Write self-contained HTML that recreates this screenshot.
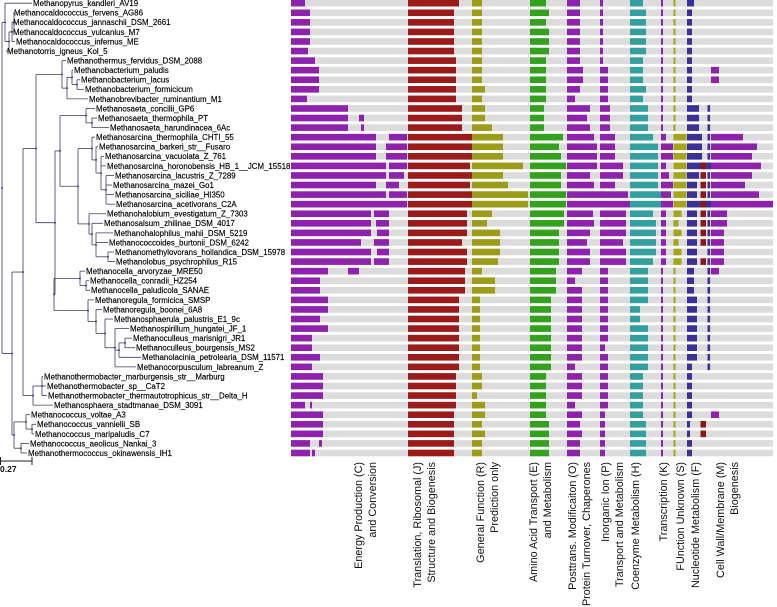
<!DOCTYPE html>
<html><head><meta charset="utf-8"><style>
html,body{margin:0;padding:0;background:#fff;}
svg{display:block;font-family:"Liberation Sans",sans-serif;}
</style></head><body>
<svg id="chart" width="777" height="607" viewBox="0 0 777 607" xmlns="http://www.w3.org/2000/svg">
<g id="tree"></g>
<g id="labels"></g>
<g id="bands"></g>
<g id="bars"></g>
<g id="xlabels"></g>
<g>
<line x1="0.5" y1="461" x2="32" y2="461" stroke="#222" stroke-width="1"/>
<line x1="0.5" y1="457" x2="0.5" y2="465" stroke="#222" stroke-width="1"/>
<line x1="32" y1="457" x2="32" y2="465" stroke="#222" stroke-width="1"/>
<text x="0" y="472" font-size="8.5" font-weight="bold" fill="#111">0.27</text>
</g>
</svg>
<script>
const taxa = ["Methanopyrus_kandleri_AV19","Methanocaldococcus_fervens_AG86","Methanocaldococcus_jannaschii_DSM_2661","Methanocaldococcus_vulcanius_M7","Methanocaldococcus_infernus_ME","Methanotorris_igneus_Kol_5","Methanothermus_fervidus_DSM_2088","Methanobacterium_paludis","Methanobacterium_lacus","Methanobacterium_formicicum","Methanobrevibacter_ruminantium_M1","Methanosaeta_concilii_GP6","Methanosaeta_thermophila_PT","Methanosaeta_harundinacea_6Ac","Methanosarcina_thermophila_CHTI_55","Methanosarcina_barkeri_str__Fusaro","Methanosarcina_vacuolata_Z_761","Methanosarcina_horonobensis_HB_1__JCM_15518","Methanosarcina_lacustris_Z_7289","Methanosarcina_mazei_Go1","Methanosarcina_siciliae_HI350","Methanosarcina_acetivorans_C2A","Methanohalobium_evestigatum_Z_7303","Methanosalsum_zhilinae_DSM_4017","Methanohalophilus_mahii_DSM_5219","Methanococcoides_burtonii_DSM_6242","Methanomethylovorans_hollandica_DSM_15978","Methanolobus_psychrophilus_R15","Methanocella_arvoryzae_MRE50","Methanocella_conradii_HZ254","Methanocella_paludicola_SANAE","Methanoregula_formicica_SMSP","Methanoregula_boonei_6A8","Methanosphaerula_palustris_E1_9c","Methanospirillum_hungatei_JF_1","Methanoculleus_marisnigri_JR1","Methanoculleus_bourgensis_MS2","Methanolacinia_petrolearia_DSM_11571","Methanocorpusculum_labreanum_Z","Methanothermobacter_marburgensis_str__Marburg","Methanothermobacter_sp__CaT2","Methanothermobacter_thermautotrophicus_str__Delta_H","Methanosphaera_stadtmanae_DSM_3091","Methanococcus_voltae_A3","Methanococcus_vannielii_SB","Methanococcus_maripaludis_C7","Methanococcus_aeolicus_Nankai_3","Methanothermococcus_okinawensis_IH1"];
const tipX = [33,14,13,13,16,7,67,74,81,85,89,96,98,110,96,99,105,107,115,113,115,116,107,104,114,109,115,116,86,90,91,95,103,114,130,133,136,142,137,44,47,48,54,31,37,35,30,28];
const energy = [14,19,19,19,19,17,24,28,28,28,16,57,57,57,85,85,85,95,95,85,95,116,80,80,80,70,80,80,37,29,29,37,37,29,37,21,21,29,21,32,32,32,14,32,32,32,19,19];
const energy2 = [null,null,null,null,null,null,null,null,null,null,null,null,[68,73],[70,73],[98,116],[95,116],[95,116],[98,116],[98,113],[95,108],[98,116],null,[83,98],[85,98],[86,98],[83,98],[86,98],[83,98],[57,68],null,null,null,null,null,null,null,null,null,null,null,null,null,[19,21],null,null,null,[28,31],[21,24]];
const translation = [51,46,46,46,46,46,48,48,48,48,48,54,54,54,64,64,64,62,64,62,64,64,59,59,59,54,59,59,57,57,57,51,51,51,51,51,51,51,51,48,48,48,48,46,46,46,46,46];
const general = [10,10,10,10,10,10,10,10,10,13,10,13,13,20,31,31,31,51,31,36,56,56,20,15,28,28,28,26,10,23,23,8,8,8,8,8,8,8,8,10,10,5,13,13,10,13,10,10];
const amino = [16,19,16,19,19,19,16,16,16,16,16,14,14,14,33,29,31,36,31,31,36,36,34,34,29,29,29,29,26,26,26,21,21,21,21,21,21,21,21,16,16,16,16,16,19,19,19,19];
const posttrans = [13,13,13,13,13,13,13,16,16,13,8,23,20,23,27,30,30,30,23,27,34,34,26,27,23,20,23,23,15,8,15,15,15,15,15,15,15,15,8,15,15,15,8,15,13,15,13,13];
const inorganic = [3,3,3,3,3,3,3,8,8,8,8,10,10,10,15,15,15,23,23,15,28,30,26,26,26,23,26,26,8,8,8,8,8,8,8,8,5,8,8,8,8,8,8,5,5,5,5,5];
const coenzyme = [13,16,16,16,16,16,13,13,13,16,13,18,18,18,23,28,28,28,28,28,31,31,23,26,26,26,26,23,18,18,18,18,10,10,18,18,18,18,18,13,13,13,13,13,16,16,16,16];
const transcription = [2,2,2,2,2,2,2,2,2,2,2,2,2,2,5,12,12,5,8,12,10,12,5,5,5,5,5,5,2,2,2,2,2,2,2,2,2,2,2,2,2,2,2,2,2,2,2,2];
const unknown = [2,2,2,2,2,2,2,2,2,2,2,2,2,2,13,13,13,13,13,13,13,13,8,5,8,5,8,8,2,2,2,2,2,2,2,2,2,2,2,2,2,2,2,2,2,2,2,2];
const nucleotide = [7,5,5,5,5,5,5,5,5,5,5,12,12,12,15,15,15,24,12,10,10,24,10,10,10,10,10,10,7,7,7,10,10,10,10,10,10,10,5,5,5,5,5,5,3,3,5,5];
const nucRed = [0,0,0,0,0,0,0,0,0,0,0,0,0,0,0,0,0,1,1,1,1,1,1,1,1,1,0,1,0,0,0,0,0,0,0,0,0,0,0,0,0,0,0,0,1,1,0,0];
const nucTick = [0,0,0,0,0,0,0,0,0,0,0,1,1,1,1,1,1,1,1,1,1,1,1,1,1,1,1,1,1,1,1,1,1,1,1,1,1,1,1,0,0,0,0,0,0,0,0,0];
const cellwall = [0,0,0,0,0,0,0,8,8,0,0,0,0,0,32,46,41,50,41,34,48,62,16,16,13,13,13,13,8,0,0,0,0,0,0,0,0,0,0,0,0,0,0,8,0,0,0,0];
const catNames = ["energy","translation","general","amino","posttrans","inorganic","coenzyme","transcription","unknown","nucleotide","cellwall"];
const catStart = {energy:291,translation:408,general:472,amino:530,posttrans:567,inorganic:600,coenzyme:630,transcription:661,unknown:673.5,nucleotide:687,cellwall:711};
const catColor = {energy:"#8e22ad",translation:"#9b1b1b",general:"#9c9c18",amino:"#32a11c",posttrans:"#8e22ad",inorganic:"#8e22ad",coenzyme:"#33a0a0",transcription:"#8e22ad",unknown:"#a5a51c",nucleotide:"#3b2f98",cellwall:"#8e22ad"};
const catData = {energy,translation,general,amino,posttrans,inorganic,coenzyme,transcription,unknown,nucleotide,cellwall};
const catLabels = [["Energy Production (C)","and Conversion",358],["Translation, Ribosomal (J)","Structure and Biogenesis",417],["General Function (R)","Prediction only",480],["Amino Acid Transport (E)","and Metabolism",533],["Posttrans. Modificaiton (O)","Protein Turnover, Chaperones",572],["Inorganic Ion (P)","Transport and Metabolism",605],["Coenzyme Metabolism (H)","",635],["Transcription (K)","",663],["FUnction Unknown (S)","",680],["Nucleotide Metabolism (F)","",695],["Cell Wall/Membrane (M)","Biogenesis",720]];

const NS = "http://www.w3.org/2000/svg";
function rowY(i){ return 3.2 + 9.57*i; }
function xPos(cat, v){ return catStart[cat] + v; }
function mk(tag, attrs, parent){ const e=document.createElementNS(NS,tag); for(const k in attrs) e.setAttribute(k, attrs[k]); parent.appendChild(e); return e; }

const bands=document.getElementById('bands'), bars=document.getElementById('bars'), labels=document.getElementById('labels'), tree=document.getElementById('tree'), xl=document.getElementById('xlabels');
const H=6.6;
taxa.forEach((t,i)=>{
  const y=rowY(i)-H/2;
  const b=mk('rect',{x:291,y:y,width:482,height:H,fill:"#dcdcdc"},bands);
  
  
  const lb=mk('text',{x:tipX[i],y:rowY(i)+2.9,'font-size':7.9,fill:"#000",stroke:"#000",'stroke-width':0.15},labels);
  lb.textContent=t;
  
  
  catNames.forEach(c=>{
    const v=catData[c][i];
    if(v>0){
      const r=mk('rect',{x:xPos(c,0),y:y,width:Math.max(0,xPos(c,v)-xPos(c,0)),height:H,fill:catColor[c]},bars);
      
      
    }
  });
  const e2=energy2[i];
  if(e2){
    const r=mk('rect',{x:xPos('energy',e2[0]),y:y,width:xPos('energy',e2[1])-xPos('energy',e2[0]),height:H,fill:catColor.energy},bars);
    
    
  }
  if(nucRed[i]){
    const r=mk('rect',{x:xPos('nucleotide',13.5),y:y,width:5.5,height:H,fill:"#8a1818"},bars);
    
    
  }
  if(nucTick[i]){
    const r=mk('rect',{x:xPos('nucleotide',20.5),y:y,width:2.6,height:H,fill:catColor.nucleotide},bars);
    
    
  }
});

const N=(x,...c)=>({x,c});
const topo = N(2,
  N(5, 0, N(9, N(12, N(14,1,2,3), 4), 5)),
  N(12,
    N(23,
      N(36,
        N(62, 6, N(67, N(72, 7, N(77, 8, 9)), 10)),
        N(55,
          N(60,
            N(86, 11, N(92, 12, 13)),
            N(78,
              N(92, 14, N(96, 15, N(101, 16, 17, N(106, 18, 19, 20, 21)))),
              N(89, 22, N(92, 23, N(96, 24, 25, N(108, 26, 27)))))),
          N(54,
            N(80, 28, N(86, 29, 30)),
            N(88, 31, N(96, 32, N(105, 33, N(115, 34, N(119, N(125, 35, 36), 37), 38))))))),
      N(33, N(42, 39, 40, 41), 42)),
    N(14,
      N(26, 43, N(32, 44, 45)),
      N(21, 46, 47))));
const tc="#3c3c66";
function draw(n){
  if(typeof n==="number") return rowY(n);
  const ys=n.c.map(ch=>{
    const yy=draw(ch);
    const x2= typeof ch==="number" ? tipX[ch]-1 : ch.x;
    const l=mk('line',{x1:n.x,y1:yy,x2:x2,y2:yy,stroke:tc,'stroke-width':0.8},tree);
    
    
    return yy;
  });
  const y0=Math.min(...ys), y1=Math.max(...ys);
  const v=mk('line',{x1:n.x,y1:y0,x2:n.x,y2:y1,stroke:tc,'stroke-width':0.8},tree);
  
  
  const ym=(y0+y1)/2;
  const d=mk('circle',{cx:n.x,cy:ym,r:1,fill:"#3b3bb0"},tree);
  
  
  return ym;
}
draw(topo);

catLabels.forEach(([a,b,x])=>{
  const g=mk('g',{},xl);
  
  
  const lines=b?[a,b]:[a];
  lines.forEach((s,k)=>{
    const t=mk('text',{transform:`translate(${x+4+k*14},462) rotate(-90)`,'text-anchor':'end','font-size':10.8,fill:"#111"},g);
    t.textContent=s;
  });
});
</script>
</body></html>
